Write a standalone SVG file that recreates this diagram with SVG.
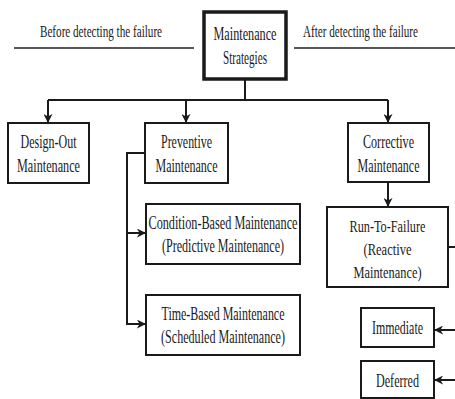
<svg xmlns="http://www.w3.org/2000/svg" width="455" height="399" viewBox="0 0 455 399">
<style>
.box{fill:#fff;stroke:#1a1a1a;stroke-width:2}
.main{fill:#fff;stroke:#1a1a1a;stroke-width:3.5}
.t{font-family:"Liberation Serif","Times New Roman",serif;font-size:18px;fill:#1a1a1a;text-anchor:middle}
.s{font-size:17px}
.h{font-family:"Liberation Serif","Times New Roman",serif;font-size:16px;fill:#1a1a1a;text-anchor:middle}
.c{fill:none;stroke:#1a1a1a;stroke-width:2}
.sep{fill:none;stroke:#555;stroke-width:2}
</style>
<defs>
<marker id="a" viewBox="0 0 10 10" refX="9" refY="5" markerWidth="9" markerHeight="9" markerUnits="userSpaceOnUse" orient="auto">
<path d="M0,0 L10,5 L0,10 L3,5 Z" fill="#1a1a1a"/>
</marker>
</defs>
<g id="header">
<line class="sep" x1="14" y1="48" x2="194" y2="48"/>
<line class="sep" x1="294" y1="48" x2="455" y2="48"/>
<text class="h" transform="translate(101,37) scale(0.75,1)" textLength="162.7" lengthAdjust="spacingAndGlyphs">Before detecting the failure</text>
<text class="h" transform="translate(360.5,37) scale(0.75,1)" textLength="153.3" lengthAdjust="spacingAndGlyphs">After detecting the failure</text>
</g>
<g id="connectors">
<polyline class="c" points="245,79 245,100"/>
<polyline class="c" points="48,100 388,100"/>
<line class="c" x1="48" y1="100" x2="48" y2="122" marker-end="url(#a)"/>
<line class="c" x1="186" y1="100" x2="186" y2="122" marker-end="url(#a)"/>
<line class="c" x1="388" y1="100" x2="388" y2="122" marker-end="url(#a)"/>
<polyline class="c" points="145,153 127,153 127,324 145,324" marker-end="url(#a)"/>
<line class="c" x1="127" y1="233" x2="145" y2="233" marker-end="url(#a)"/>
<line class="c" x1="388" y1="182" x2="388" y2="206" marker-end="url(#a)"/>
<line class="c" x1="448" y1="247" x2="456" y2="247"/>
<line class="c" x1="456" y1="330" x2="435" y2="330" marker-end="url(#a)"/>
<line class="c" x1="456" y1="380" x2="435" y2="380" marker-end="url(#a)"/>
</g>
<g id="maintenance-strategies">
<rect class="main" x="204" y="12" width="82" height="67"/>
<text class="t" transform="translate(245,40) scale(0.75,1)" textLength="84" lengthAdjust="spacingAndGlyphs">Maintenance</text>
<text class="t" transform="translate(245,64) scale(0.75,1)" textLength="58.7" lengthAdjust="spacingAndGlyphs">Strategies</text>
</g>
<g id="design-out">
<rect class="box" x="8" y="123" width="81" height="60"/>
<text class="t" transform="translate(48.5,148) scale(0.75,1)" textLength="74.7" lengthAdjust="spacingAndGlyphs">Design-Out</text>
<text class="t" transform="translate(48.5,172) scale(0.75,1)" textLength="84" lengthAdjust="spacingAndGlyphs">Maintenance</text>
</g>
<g id="preventive">
<rect class="box" x="145" y="123" width="83" height="60"/>
<text class="t" transform="translate(186.5,148) scale(0.75,1)" textLength="68" lengthAdjust="spacingAndGlyphs">Preventive</text>
<text class="t" transform="translate(186.5,172) scale(0.75,1)" textLength="82.7" lengthAdjust="spacingAndGlyphs">Maintenance</text>
</g>
<g id="condition-based">
<rect class="box" x="146" y="204" width="154" height="60"/>
<text class="t" transform="translate(223,229) scale(0.75,1)" textLength="198.7" lengthAdjust="spacingAndGlyphs">Condition-Based Maintenance</text>
<text class="t" transform="translate(223,252) scale(0.75,1)" textLength="162.7" lengthAdjust="spacingAndGlyphs">(Predictive Maintenance)</text>
</g>
<g id="time-based">
<rect class="box" x="146" y="295" width="154" height="60"/>
<text class="t" transform="translate(223,320) scale(0.75,1)" textLength="164" lengthAdjust="spacingAndGlyphs">Time-Based Maintenance</text>
<text class="t" transform="translate(223,343) scale(0.75,1)" textLength="165.3" lengthAdjust="spacingAndGlyphs">(Scheduled Maintenance)</text>
</g>
<g id="corrective">
<rect class="box" x="348" y="123" width="81" height="59"/>
<text class="t" transform="translate(388.5,148) scale(0.75,1)" textLength="68" lengthAdjust="spacingAndGlyphs">Corrective</text>
<text class="t" transform="translate(388.5,172) scale(0.75,1)" textLength="82.7" lengthAdjust="spacingAndGlyphs">Maintenance</text>
</g>
<g id="run-to-failure">
<rect class="box" x="327" y="207" width="121" height="80"/>
<text class="t s" transform="translate(387.5,232) scale(0.75,1)" textLength="101.3" lengthAdjust="spacingAndGlyphs">Run-To-Failure</text>
<text class="t s" transform="translate(387.5,255) scale(0.75,1)" textLength="64" lengthAdjust="spacingAndGlyphs">(Reactive</text>
<text class="t s" transform="translate(387.5,278) scale(0.75,1)" textLength="90.7" lengthAdjust="spacingAndGlyphs">Maintenance)</text>
</g>
<g id="immediate">
<rect class="box" x="361" y="308" width="73" height="39"/>
<text class="t" transform="translate(397.5,334) scale(0.75,1)" textLength="68" lengthAdjust="spacingAndGlyphs">Immediate</text>
</g>
<g id="deferred">
<rect class="box" x="361" y="361" width="73" height="37"/>
<text class="t" transform="translate(397.5,387) scale(0.75,1)" textLength="57.3" lengthAdjust="spacingAndGlyphs">Deferred</text>
</g>
</svg>
